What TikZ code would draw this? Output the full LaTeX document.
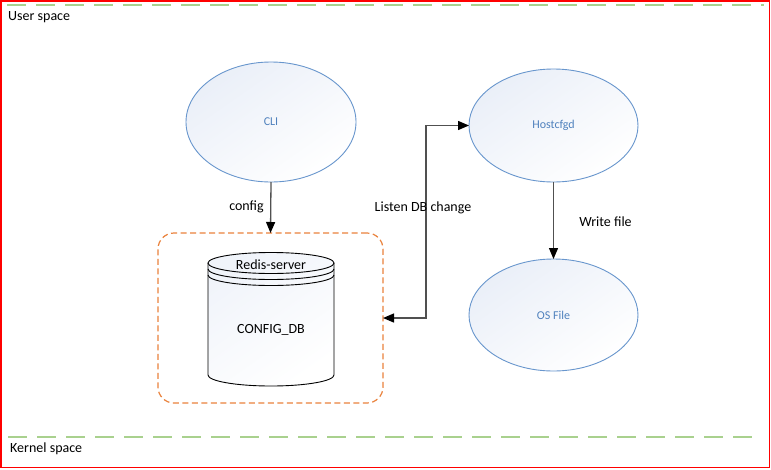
\documentclass[tikz,border=0pt]{standalone}
\usepackage{fontspec}
\setmainfont{Carlito}
\usetikzlibrary{arrows.meta,shapes.geometric}
\definecolor{frame}{RGB}{255,0,0}
\definecolor{spacegreen}{RGB}{169,209,142}
\definecolor{ellblue}{RGB}{104,150,205}
\definecolor{elltext}{RGB}{79,129,189}
\definecolor{ellfill}{RGB}{234,239,248}
\definecolor{srvorange}{RGB}{234,130,60}
\definecolor{connc}{RGB}{80,80,80}
\tikzset{
  lbl/.style={font=\fontsize{14}{16}\selectfont, text=black, inner sep=0pt},
  ellnode/.style={ellipse, draw=ellblue, line width=0.9pt, outer sep=0pt,
    top color=ellfill, bottom color=white, shading angle=35,
    font=\fontsize{12}{14}\selectfont, text=elltext},
  conn/.style={draw=connc, line width=1.3pt,
    -{Triangle[length=11pt,width=9pt,color=black]}},
  spaceline/.style={draw=spacegreen, line width=2pt, dash pattern=on 19pt off 10pt},
}
\begin{document}
\begin{tikzpicture}[x=1pt,y=-1pt]
\useasboundingbox (0,0) rectangle (771,469);
\fill[white] (0,0) rectangle (771,469);
\draw[frame, line width=1.5pt] (0.75,0.75) rectangle (769.5,467.7);
% space separators
\coordinate (ts) at (7,5); \coordinate (te) at (764,5);
\coordinate (bs) at (8,437); \coordinate (be) at (757,437);
\draw[spaceline] (ts) -- (te);
\draw[spaceline] (bs) -- (be);
\node[lbl, anchor=west] (user) at (8,17) {User space};
\node[lbl, anchor=west] (kernel) at (10,449) {Kernel space};
% ellipses
\node[ellnode, minimum width=170pt, minimum height=120pt] (cli) at (271,122) {CLI};
\node[ellnode, minimum width=169pt, minimum height=113pt] (host) at (553.5,125.5) {Hostcfgd};
\node[ellnode, minimum width=169pt, minimum height=112pt] (osf) at (553.5,315) {OS File};
% redis server box
\node[draw=srvorange, line width=1.2pt, dash pattern=on 6pt off 3.5pt, rounded corners=16pt,
      minimum width=225pt, minimum height=170pt, outer sep=0pt] (srv) at (270.5,318) {};
% cylinder
\path[top color=ellfill!70!white, bottom color=white, shading angle=35]
  (208,263) -- (208,375) arc[start angle=180,end angle=360,x radius=63pt,y radius=11pt]
  -- (334,263) arc[start angle=0,end angle=180,x radius=63pt,y radius=10.5pt] -- cycle;
\draw[black, line width=0.9pt]
  (208,263) -- (208,375) arc[start angle=180,end angle=360,x radius=63pt,y radius=11pt]
  -- (334,263);
\draw[black, line width=0.9pt] (271,263) ellipse [x radius=63pt, y radius=10.5pt];
\draw[black, line width=0.9pt] (208,269) arc[start angle=180,end angle=360,x radius=63pt,y radius=10.5pt];
\draw[black, line width=0.9pt] (208,275) arc[start angle=180,end angle=360,x radius=63pt,y radius=10.5pt];
\node[lbl] (redis) at (271,265) {Redis-server};
\node[lbl] (cfgdb) at (271,330) {CONFIG\_DB};
% connectors
\draw[conn] (cli.south) -- (srv.north);
\node[lbl] (cfglbl) at (246.5,207) {config};
\coordinate (elbow) at (426,318);
\draw[conn, {Triangle[length=11pt,width=9pt,color=black]}-{Triangle[length=11pt,width=9pt,color=black]}]
  (srv.east) -- (elbow) |- (host.west);
\node[lbl] (listen) at (423,208) {Listen DB change};
\draw[conn] (host.south) -- (osf.north);
\node[lbl] (write) at (605.5,222) {Write file};
\end{tikzpicture}
\end{document}
